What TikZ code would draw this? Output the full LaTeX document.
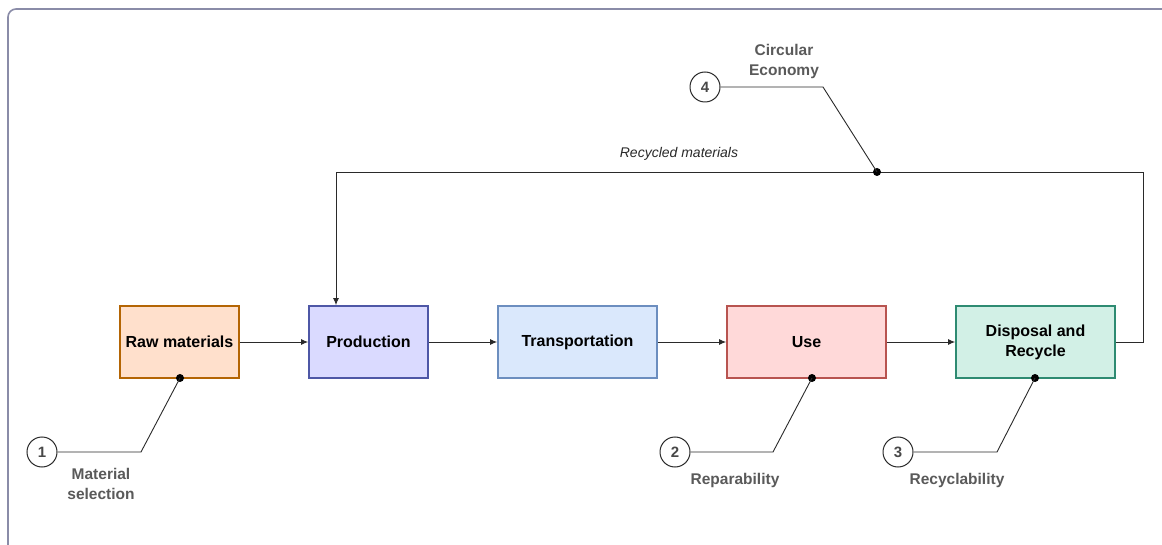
\documentclass[tikz,border=0pt]{standalone}
\usepackage{fontspec}
\setmainfont{Liberation Sans}
\usetikzlibrary{arrows.meta}
\definecolor{frame}{HTML}{8A8CA8}
\definecolor{rawf}{HTML}{FFE0CC}\definecolor{rawd}{HTML}{B46504}
\definecolor{prof}{HTML}{DADAFF}\definecolor{prod}{HTML}{4E57A6}
\definecolor{traf}{HTML}{DAE8FC}\definecolor{trad}{HTML}{6C8EBF}
\definecolor{usef}{HTML}{FFD9D9}\definecolor{used}{HTML}{B85450}
\definecolor{disf}{HTML}{D2F0E6}\definecolor{disd}{HTML}{2E8B72}
\definecolor{annot}{HTML}{5A5A5A}
\definecolor{lin}{HTML}{2A2A2A}
\tikzset{
  x=1pt, y=-1pt,
  stage/.style={draw, line width=1.8pt, minimum height=72pt, align=center,
    font=\fontsize{16}{20}\selectfont\bfseries, text=black, inner sep=2pt},
  flow/.style={draw=lin, line width=0.9pt, -{Latex[length=7pt,width=6pt]}},
  leader/.style={draw=lin, line width=0.9pt},
  numc/.style={circle, draw=lin, line width=1pt, minimum size=30pt, inner sep=0pt,
    font=\fontsize{15}{17}\selectfont\bfseries, text=annot!80!black},
  dotc/.style={circle, fill=black, minimum size=8pt, inner sep=0pt},
  ann/.style={align=center, font=\fontsize{15.5}{20}\selectfont\bfseries, text=annot},
}
\begin{document}
\begin{tikzpicture}
\useasboundingbox (0,0) rectangle (1162,545);
\fill[white] (0,0) rectangle (1162,545);
\draw[frame, line width=1.6pt, rounded corners=8pt] (1175,9) -- (8,9) -- (8,560);

\node[stage, fill=rawf, draw=rawd, minimum width=119pt] (raw) at (179.5,342) {Raw materials};
\node[stage, fill=prof, draw=prod, minimum width=119pt] (pro) at (368.5,342) {Production};
\node[stage, fill=traf, draw=trad, minimum width=159pt] (tra) at (577.5,342) {Transportation};
\node[stage, fill=usef, draw=used, minimum width=159pt] (use) at (806.5,342) {Use};
\node[stage, fill=disf, draw=disd, minimum width=159pt] (dis) at (1035.5,342) {Disposal and\\Recycle};

\draw[flow] (raw) -- (pro);
\draw[flow] (pro) -- (tra);
\draw[flow] (tra) -- (use);
\draw[flow] (use) -- (dis);

\coordinate (lr) at (1143,342);
\coordinate (tr) at (1143,172);
\coordinate (tl) at (336,172);
\draw[flow] (dis.east) -- (lr) -- (tr) -- (tl) -- (tl |- pro.north);
\node[font=\fontsize{14}{16}\selectfont\itshape, text=lin] (rec) at (679,154) {Recycled materials};

% annotations
\node[dotc] (d1) at (180,378) {};
\node[numc] (n1) at (42,452) {1};
\coordinate (k1) at (141,452);
\draw[leader] (n1) -- (k1) -- (d1.center);
\node[ann] (t1) at (101,484) {Material\\selection};

\node[dotc] (d2) at (812,378) {};
\node[numc] (n2) at (675,452) {2};
\coordinate (k2) at (773,452);
\draw[leader] (n2) -- (k2) -- (d2.center);
\node[ann] (t2) at (735,480) {Reparability};

\node[dotc] (d3) at (1035,378) {};
\node[numc] (n3) at (898,452) {3};
\coordinate (k3) at (997,452);
\draw[leader] (n3) -- (k3) -- (d3.center);
\node[ann] (t3) at (957,480) {Recyclability};

\node[dotc] (d4) at (877,172) {};
\node[numc] (n4) at (705,87) {4};
\coordinate (k4) at (823,87);
\draw[leader] (n4) -- (k4) -- (d4.center);
\node[ann] (t4) at (784,61) {Circular\\Economy};
\end{tikzpicture}
\end{document}
